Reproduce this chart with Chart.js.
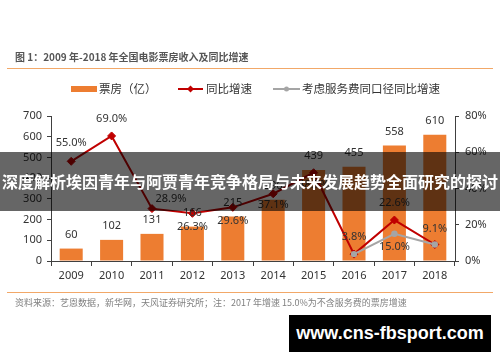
<!DOCTYPE html>
<html lang="zh">

<head>
    <meta charset="UTF-8">
    <title>全国电影票房收入及同比增速</title>
    <script src="https://cdn.jsdelivr.net/npm/chart.js"></script>
    <style>
        body { margin: 0; background: #fff; }
        #wrap { position: relative; width: 500px; height: 362px; overflow: hidden; font-family: "Noto Sans CJK SC", "Noto Sans", sans-serif; }
        #myChart { position: absolute; left: 0; top: 0; }
        .title { position: absolute; left: 15px; top: 50px; font-size: 10px; font-weight: bold; color: #555; white-space: nowrap; line-height: 14px; }
        .rule { position: absolute; left: 7px; width: 486px; height: 1px; background: #f2a868; }
        .source { position: absolute; left: 15px; top: 297px; font-size: 9px; color: #808080; white-space: nowrap; line-height: 12px; }
        .band { position: absolute; left: 0; top: 152px; width: 500px; height: 59px; background: rgba(0, 0, 0, 0.6); color: #fff; font-weight: bold; font-size: 16px; line-height: 59px; text-align: center; white-space: nowrap; }
        .mark { position: absolute; left: 289px; top: 315px; width: 202px; height: 37px; background: #000; color: #fff; font-family: "Liberation Sans", sans-serif; font-weight: bold; font-size: 18px; line-height: 37px; text-align: center; }
    </style>
</head>

<body>
    <div id="wrap">
        <canvas id="myChart" width="500" height="362"></canvas>
        <div class="title">图 1：2009 年-2018 年全国电影票房收入及同比增速</div>
        <div class="rule" style="top:68px"></div>
        <div class="rule" style="top:292px"></div>
        <div class="source">资料来源：艺恩数据，新华网，天风证券研究所；注：2017 年增速 15.0%为不含服务费的票房增速</div>
        <div class="band">深度解析埃因青年与阿贾青年竞争格局与未来发展趋势全面研究的探讨</div>
        <div class="mark">www.cns-fbsport.com</div>
    </div>
    <script>
        // 数据
        const years = ['2009', '2010', '2011', '2012', '2013', '2014', '2015', '2016', '2017', '2018'];
        const boxOffice = [60, 102, 131, 166, 215, 296, 439, 455, 558, 610]; // 票房（亿）
        const growth = [55.0, 69.0, 28.9, 26.3, 29.6, 37.1, 48.7, 3.8, 22.6, 9.1]; // 同比增速 %
        const growthSameBasis = [null, null, null, null, null, null, null, 3.8, 15.0, 9.1]; // 考虑服务费同口径同比增速 %
        const leftTicks = [0, 100, 200, 300, 400, 500, 600, 700];
        const rightTicks = [0, 20, 40, 60, 80];

        const ORANGE = '#ED7D31';
        const RED = '#C00000';
        const GREY = '#A5A5A5';
        const AXIS = '#404040';
        const TXT = '#333333';
        const FONT = '"Noto Sans", "Noto Sans CJK SC", sans-serif';

        // 百分比标签位置: [dx, dy]
        const growthLabelPos = [[0, -18], [0, -17], [19, -10], [0, 14], [0, 14], [0, 11], [0, 12], [0, -17], [0, -17], [0, -16]];
        const sameBasisLabelPos = [null, null, null, null, null, null, null, null, [0, 13], null];

        const labelPlugin = {
            id: 'labels',
            afterDatasetsDraw(chart) {
                const ctx = chart.ctx;
                ctx.save();
                ctx.fillStyle = TXT;
                ctx.font = '11px ' + FONT;
                ctx.textAlign = 'center';
                ctx.textBaseline = 'middle';

                // 柱子数值
                chart.getDatasetMeta(0).data.forEach((bar, i) => {
                    ctx.fillText(String(boxOffice[i]), bar.x, bar.y - 14);
                });
                // 同比增速
                chart.getDatasetMeta(1).data.forEach((pt, i) => {
                    const p = growthLabelPos[i];
                    ctx.fillText(growth[i].toFixed(1) + '%', pt.x + p[0], pt.y + p[1]);
                });
                chart.getDatasetMeta(2).data.forEach((pt, i) => {
                    const p = sameBasisLabelPos[i];
                    if (p && growthSameBasis[i] !== null) {
                        ctx.fillText(growthSameBasis[i].toFixed(1) + '%', pt.x + p[0], pt.y + p[1]);
                    }
                });
                ctx.restore();
            },
            afterDraw(chart) {
                // 图例
                const ctx = chart.ctx;
                const y = 89;
                ctx.save();
                ctx.font = '11.5px "Noto Sans CJK SC", sans-serif';
                ctx.textBaseline = 'middle';
                ctx.fillStyle = ORANGE;
                ctx.fillRect(71, 86, 26, 6);
                ctx.fillStyle = TXT;
                ctx.fillText('票房（亿）', 99, y);

                ctx.strokeStyle = RED;
                ctx.lineWidth = 2;
                ctx.beginPath(); ctx.moveTo(178, y); ctx.lineTo(203, y); ctx.stroke();
                ctx.fillStyle = RED;
                ctx.beginPath();
                ctx.moveTo(190.5, y - 3.5); ctx.lineTo(194, y); ctx.lineTo(190.5, y + 3.5); ctx.lineTo(187, y);
                ctx.closePath(); ctx.fill();
                ctx.fillStyle = TXT;
                ctx.fillText('同比增速', 206, y);

                ctx.strokeStyle = GREY;
                ctx.beginPath(); ctx.moveTo(273, y); ctx.lineTo(300, y); ctx.stroke();
                ctx.fillStyle = GREY;
                ctx.beginPath(); ctx.arc(286.5, y, 2.5, 0, Math.PI * 2); ctx.fill();
                ctx.fillStyle = TXT;
                ctx.fillText('考虑服务费同口径同比增速', 302, y);
                ctx.restore();
            }
        };

        const ctx = document.getElementById('myChart').getContext('2d');
        const myChart = new Chart(ctx, {
            type: 'bar',
            data: {
                labels: years,
                datasets: [{
                    label: '票房（亿）',
                    data: boxOffice,
                    yAxisID: 'y',
                    backgroundColor: ORANGE,
                    categoryPercentage: 1,
                    barPercentage: 0.57,
                    order: 3
                }, {
                    label: '同比增速',
                    type: 'line',
                    data: growth,
                    yAxisID: 'y1',
                    borderColor: RED,
                    backgroundColor: RED,
                    borderWidth: 2,
                    pointStyle: 'rectRot',
                    pointRadius: 4,
                    pointBorderWidth: 1,
                    tension: 0,
                    order: 2
                }, {
                    label: '考虑服务费同口径同比增速',
                    type: 'line',
                    data: growthSameBasis,
                    yAxisID: 'y1',
                    borderColor: GREY,
                    backgroundColor: GREY,
                    borderWidth: 2,
                    pointRadius: 3.2,
                    pointBorderWidth: 0,
                    tension: 0,
                    order: 1
                }]
            },
            options: {
                responsive: false,
                animation: false,
                devicePixelRatio: 1,
                layout: { padding: { top: 116, left: 0, right: 0, bottom: 0 } },
                plugins: {
                    legend: { display: false },
                    tooltip: { enabled: false }
                },
                scales: {
                    x: {
                        offset: true,
                        grid: { offset: true, drawOnChartArea: false, drawTicks: true, tickLength: 5, color: AXIS },
                        border: { color: AXIS },
                        ticks: { color: TXT, font: { family: FONT, size: 11 }, padding: 3, maxRotation: 0 },
                        afterFit(scale) { scale.height = 101; }
                    },
                    y: {
                        position: 'left',
                        min: 0,
                        max: 700,
                        afterBuildTicks(scale) { scale.ticks = leftTicks.map(v => ({ value: v })); },
                        grid: { drawOnChartArea: false, tickLength: 4, color: AXIS },
                        border: { color: AXIS },
                        ticks: { color: TXT, font: { family: FONT, size: 11 }, padding: 5 },
                        afterFit(scale) { scale.width = 51; }
                    },
                    y1: {
                        position: 'right',
                        min: 0,
                        max: 80,
                        afterBuildTicks(scale) { scale.ticks = rightTicks.map(v => ({ value: v })); },
                        grid: { drawOnChartArea: false, tickLength: 4, color: AXIS },
                        border: { color: AXIS },
                        ticks: { color: TXT, font: { family: FONT, size: 11 }, padding: 6, callback: v => v + '%' },
                        afterFit(scale) { scale.width = 45; }
                    }
                }
            },
            plugins: [labelPlugin]
        });
    </script>
</body>

</html>
